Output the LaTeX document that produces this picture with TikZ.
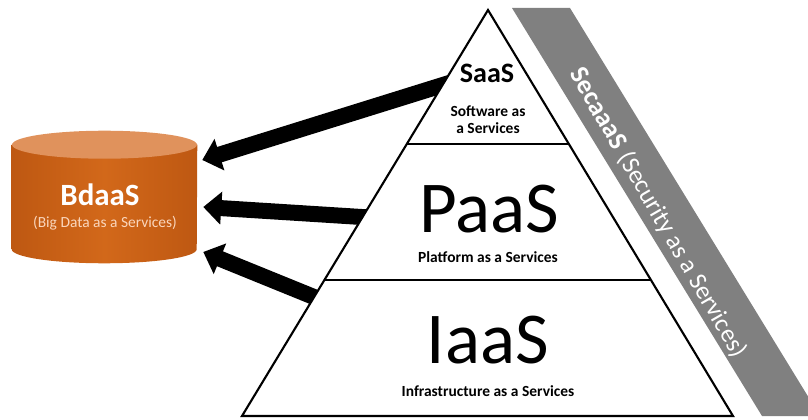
\documentclass[tikz,border=0pt]{standalone}
\usepackage{fontspec}
\setmainfont{Carlito}
\usepackage{tikz}
\usetikzlibrary{calc,arrows.meta}
\usepackage{xcolor}
\definecolor{bdorange}{RGB}{210,104,26}
\definecolor{bdorangedark}{RGB}{190,88,18}
\definecolor{bdtop}{RGB}{224,146,92}
\definecolor{bdtext}{RGB}{250,214,188}
\definecolor{secgray}{RGB}{128,128,128}

\begin{document}
\begin{tikzpicture}[
        bigarrow/.style={line width=0.4cm, -{Triangle[width=0.8cm,length=0.45cm]}},
        layer/.style={font=\bfseries\fontsize{11}{12.5}\selectfont, align=center},
        biglabel/.style={font=\fontsize{52}{52}\selectfont, anchor=base}
    ]
            \useasboundingbox (0,0) rectangle (20.2,10.475);
            \clip (0,0) rectangle (20.2,10.475);

            \def\rx{2.3125cm}
            \def\ry{0.35cm}

            \fill[secgray] (12.8,10.275) -- (14.25,10.275) -- (20.5,0.075) -- (19.05,0.075) -- cycle;
            \node[text=white, rotate=-60] (secaaas) at (16.45,5.15)
                {{\bfseries\fontsize{19}{19}\selectfont SecaaaS}\hspace{5pt}{\fontsize{18}{18}\selectfont(Security as a Services)}};

            \node[minimum width=4.625cm, minimum height=2.6cm, inner sep=0] (bdaas) at (2.6125,5.55) {};
            \shade[left color=bdorangedark, right color=bdorangedark, middle color=bdorange]
                (bdaas.north west) -- (bdaas.south west)
                arc[start angle=180, end angle=360, x radius=\rx, y radius=\ry]
                -- (bdaas.north east) -- cycle;
            \fill[bdtop] (bdaas.north) ellipse [x radius=\rx, y radius=\ry];
            \node[text=white, font=\bfseries\fontsize{22}{22}\selectfont] (bdname) at (2.5,5.6) {BdaaS};
            \node[text=bdtext, font=\fontsize{11}{12}\selectfont] (bdsub) at (2.625,4.9) {(Big Data as a Services)};

            \coordinate (apex) at (12.2,10.225);
            \coordinate (bl) at (6.05,0.075);
            \coordinate (br) at (18.325,0.075);

            \coordinate (tailA) at ($(apex)!0.185!(bl)$);
            \coordinate (tailB) at ($(apex)!0.51!(bl)$);
            \coordinate (tailC) at ($(apex)!0.707!(bl)$);
            \coordinate (tipA) at ([xshift=0.125cm,yshift=0.925cm]bdaas.east);
            \coordinate (tipB) at ([xshift=0.15cm,yshift=-0.25cm]bdaas.east);
            \coordinate (tipC) at ([xshift=0.15cm,yshift=-1.375cm]bdaas.east);

            \draw[bigarrow] ($(tipA)!1.08!(tailA)$) -- (tipA);
            \draw[bigarrow] ($(tipB)!1.1!(tailB)$) -- (tipB);
            \draw[bigarrow] ($(tipC)!1.12!(tailC)$) -- (tipC);

            \filldraw[fill=white, line width=1.5pt] (apex) -- (bl) -- (br) -- cycle;
            \draw[line width=2pt] ($(apex)!0.33!(bl)$) -- ($(apex)!0.33!(br)$);
            \draw[line width=2pt] ($(apex)!0.665!(bl)$) -- ($(apex)!0.665!(br)$);

            \node[font=\bfseries\fontsize{20}{20}\selectfont, anchor=base] (saas) at (12.175,8.4) {SaaS};
            \node[layer] (saassub) at (12.2,7.4875) {Software as\\a Services};
            \node[biglabel] (paas) at (12.225,4.65) {PaaS};
            \node[layer] (paassub) at (12.2,4.05) {Platform as a Services};
            \node[biglabel] (iaas) at (12.2,1.375) {IaaS};
            \node[layer] (iaassub) at (12.2,0.7) {Infrastructure as a Services};
        \end{tikzpicture}
\end{document}
